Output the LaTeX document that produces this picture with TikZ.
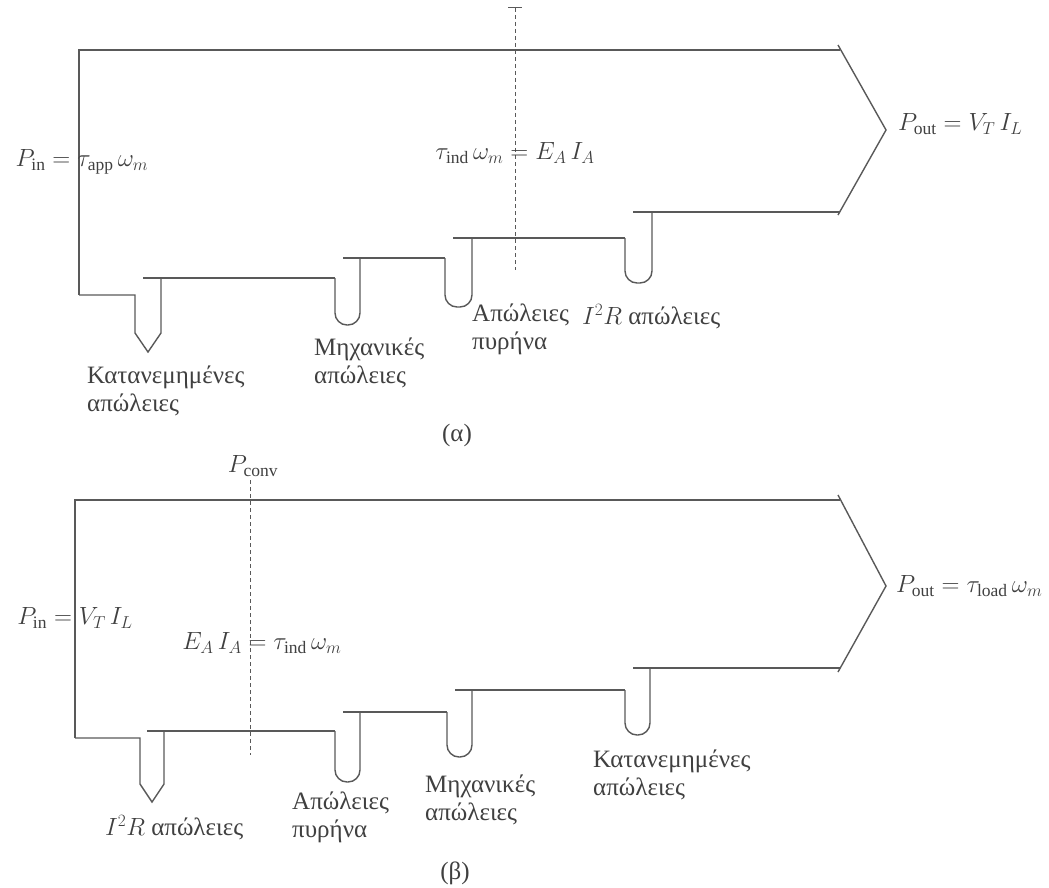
\documentclass[tikz,border=0pt]{standalone}
\usepackage{fontspec}
\setmainfont{Liberation Serif}
\begin{document}
\begin{tikzpicture}[x=1pt,y=-1pt,
  flow/.style={draw=black!65, line width=1.4pt},
  ubend/.style={draw=black!65, line width=1.4pt, rounded corners=12pt},
  dline/.style={draw=black!65, line width=1pt, dash pattern=on 4pt off 3pt},
  lbl/.style={font=\fontsize{25}{28}\selectfont, text=black!75, inner sep=0pt, align=left, anchor=north west},
  eq/.style={font=\fontsize{25}{28}\selectfont, text=black!75, inner sep=0pt}]
\useasboundingbox (0,0) rectangle (1049,888);

% ---------------- (a) ----------------
\coordinate (a0) at (79,295);
\coordinate (atl) at (79,50);
\coordinate (atr) at (840,50);
\draw[flow] (a0) -- (atl) -- (atr);
\coordinate (ach1) at (838,45);
\coordinate (atip) at (886,130);
\coordinate (ach2) at (838,215);
\draw[flow] (ach1) -- (atip) -- (ach2);
% levels and losses
\draw[flow] (a0) -- (135,295) -- (135,333) -- (148,352) -- (161,333) -- (161,278);
\draw[flow] (143,278) -- (335,278);
\draw[ubend] (335,278) -- (335,325) -- (360,325) -- (360,258);
\draw[flow] (343,258) -- (445,258);
\draw[ubend] (445,258) -- (445,307) -- (472,307) -- (472,238);
\draw[flow] (453,238) -- (625,238);
\draw[ubend] (625,238) -- (625,283) -- (652,283) -- (652,212);
\draw[flow] (633,212) -- (840,212);
% dashed line
\coordinate (adt) at (515,8);
\coordinate (adb) at (515,270);
\draw[dline] (adt) -- (adb);
\draw[draw=black!65, line width=1pt] (508,8) -- (522,8);

\node[eq] (ain) at (82,162) {$P_{\mathrm{in}}=\tau_{\mathrm{app}}\,\omega_m$};
\node[eq] (aconv) at (515,153) {$\tau_{\mathrm{ind}}\,\omega_m=E_A\,I_A$};
\node[eq, anchor=west] (aout) at (898,124) {$P_{\mathrm{out}}=V_T\,I_L$};

\node[lbl] (as) at (87,366) {Κατανεμημένες\\απώλειες};
\node[lbl] (am) at (314,338) {Μηχανικές\\απώλειες};
\node[lbl] (ac) at (472,304) {Απώλειες\\πυρήνα};
\node[lbl] (ai) at (582,304) {$I^2R$ απώλειες};
\node[eq] (alab) at (457,435) {(α)};

% ---------------- (b) ----------------
\coordinate (b0) at (75,738);
\coordinate (btl) at (75,500);
\coordinate (btr) at (840,500);
\draw[flow] (b0) -- (btl) -- (btr);
\coordinate (bch1) at (838,495);
\coordinate (btip) at (886,586);
\coordinate (bch2) at (838,672);
\draw[flow] (bch1) -- (btip) -- (bch2);
\draw[flow] (b0) -- (140,738) -- (140,784) -- (152,802) -- (164,784) -- (164,731);
\draw[flow] (147,731) -- (335,731);
\draw[ubend] (335,731) -- (335,782) -- (360,782) -- (360,712);
\draw[flow] (343,712) -- (447,712);
\draw[ubend] (447,712) -- (447,757) -- (472,757) -- (472,690);
\draw[flow] (455,690) -- (625,690);
\draw[ubend] (625,690) -- (625,735) -- (650,735) -- (650,668);
\draw[flow] (633,668) -- (840,668);
\coordinate (bdt) at (250,480);
\coordinate (bdb) at (250,755);
\draw[dline] (bdt) -- (bdb);

\node[eq] (bin) at (75,618) {$P_{\mathrm{in}}=V_T\,I_L$};
\node[eq] (bconv) at (253,466) {$P_{\mathrm{conv}}$};
\node[eq] (bea) at (262,643) {$E_A\,I_A=\tau_{\mathrm{ind}}\,\omega_m$};
\node[eq, anchor=west] (bout) at (896,586) {$P_{\mathrm{out}}=\tau_{\mathrm{load}}\,\omega_m$};

\node[lbl] (bi) at (105,815) {$I^2R$ απώλειες};
\node[lbl] (bc) at (292,792) {Απώλειες\\πυρήνα};
\node[lbl] (bm) at (425,775) {Μηχανικές\\απώλειες};
\node[lbl] (bs) at (593,750) {Κατανεμημένες\\απώλειες};
\node[eq] (blab) at (455,873) {(β)};
\end{tikzpicture}
\end{document}
